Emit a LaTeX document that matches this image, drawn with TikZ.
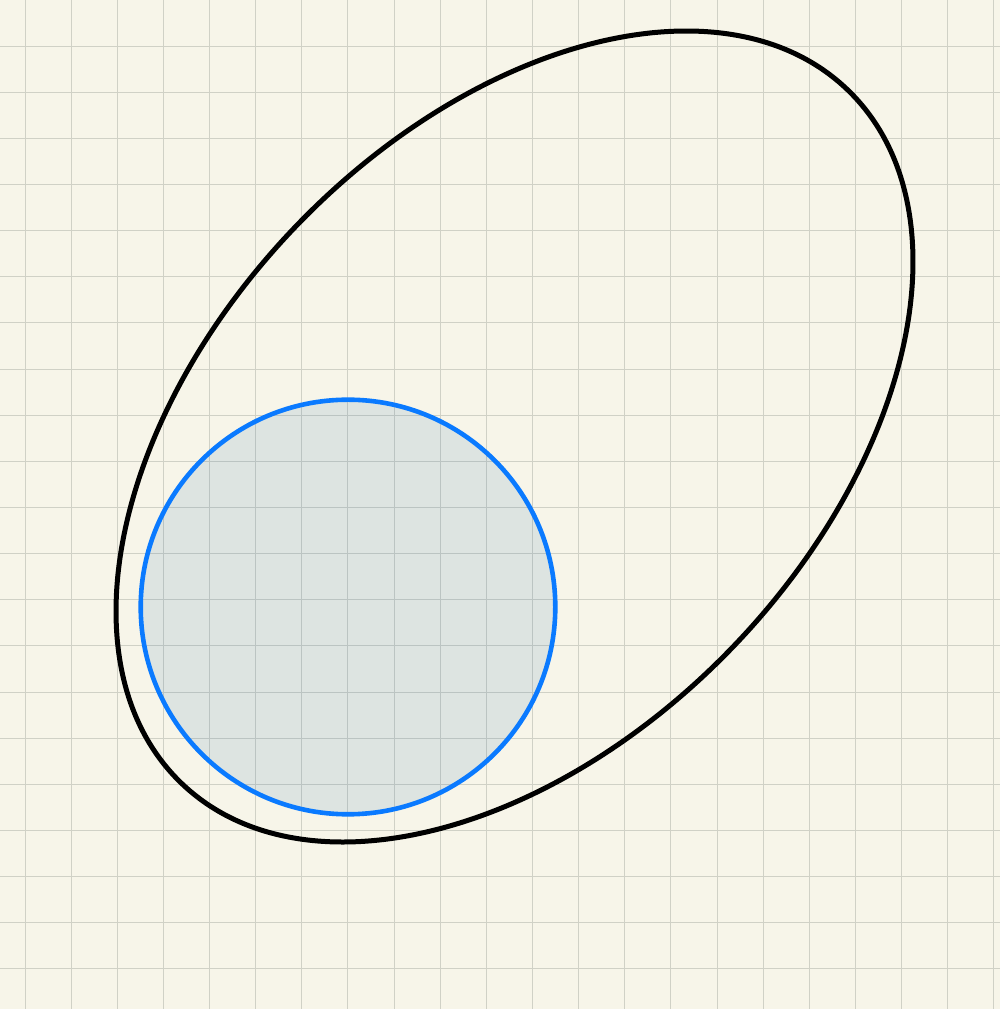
\documentclass[tikz,border=0pt]{standalone}
\usetikzlibrary{calc}
\definecolor{paper}{RGB}{247,245,233}
\definecolor{gridc}{RGB}{208,209,198}
\definecolor{circblue}{RGB}{10,122,255}
\definecolor{circfill}{RGB}{40,110,170}
\tikzset{
  gridline/.style={draw=gridc, line width=1pt},
  eggline/.style={draw=black, line width=5pt},
  circline/.style={draw=circblue, line width=4.6pt, fill=circfill, fill opacity=0.12, draw opacity=1}
}
\begin{document}
\begin{tikzpicture}[x=1pt,y=1pt]
\fill[paper] (0,0) rectangle (1000,1009);
\useasboundingbox (0,0) rectangle (1000,1009);
\foreach \k in {0,...,21} {
  \draw[gridline] ({25+46.14*\k},0) -- ({25+46.14*\k},1009);
}
\foreach \k in {0,...,21} {
  \draw[gridline] (0,{1009-46.14*\k}) -- (1000,{1009-46.14*\k});
}
\coordinate (ec) at (514.5,572.5);
\draw[eggline, rotate around={46.16:(ec)}] (ec) ellipse (480.8 and 303.3);
\coordinate (cc) at (348,402);
\draw[circline] (cc) circle (207.3);
\end{tikzpicture}
\end{document}
